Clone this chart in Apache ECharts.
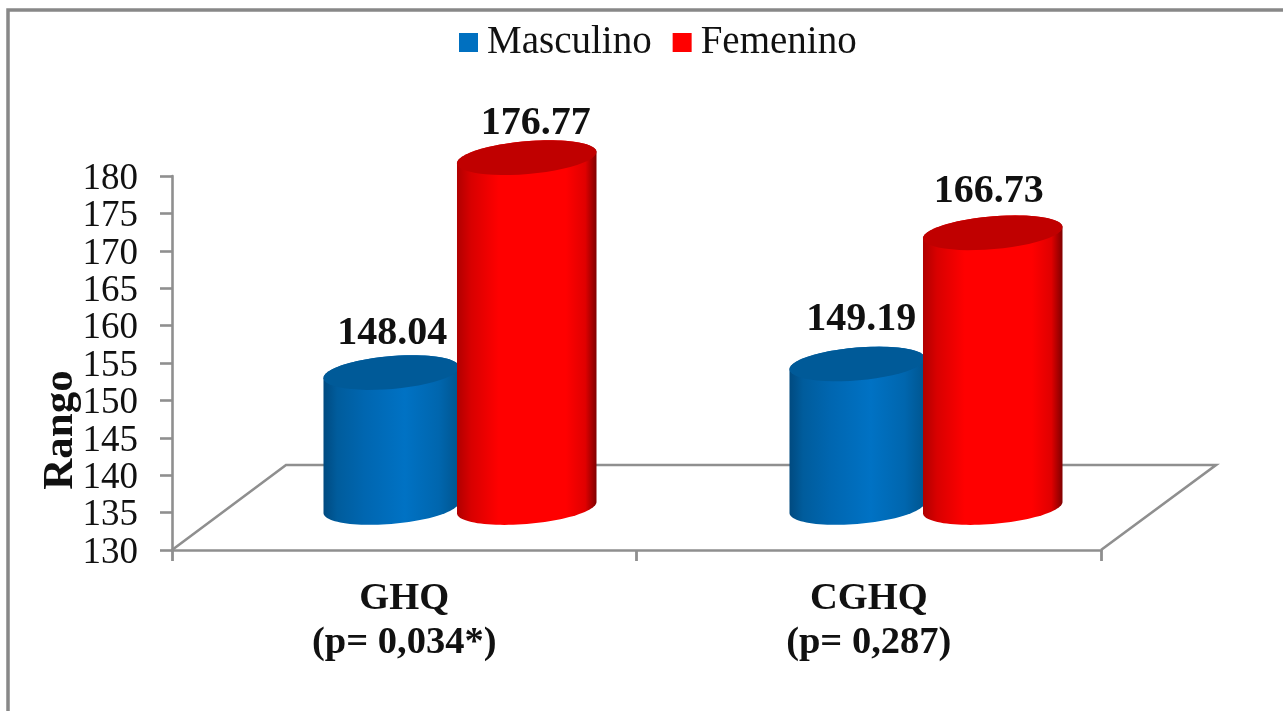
<!DOCTYPE html>
<html>
<head>
<meta charset="utf-8">
<style>html,body{margin:0;padding:0;background:#fff}#c{width:1283px;height:711px}</style>
<script src="https://cdn.jsdelivr.net/npm/echarts@6/dist/echarts.min.js"></script>
</head>
<body>
<div id="c"></div>
<script>
const categories = ['GHQ\n(p= 0,034*)', 'CGHQ\n(p= 0,287)'];
const masculino = [148.04, 149.19];
const femenino = [176.77, 166.73];
const valueTicks = { min: 130, max: 180, interval: 5 };

const FONT = '"Liberation Serif","Times New Roman",serif';
const GREY = '#8f8f8f';
const DEPTH_X = 114, DEPTH_Y = 85;
const TILT = -4.9 * Math.PI / 180;

function ellipsePoint(cx, cy, a, b, t) {
  const c = Math.cos(t), s = Math.sin(t);
  return [cx + a * c * Math.cos(TILT) - b * s * Math.sin(TILT),
          cy + a * c * Math.sin(TILT) + b * s * Math.cos(TILT)];
}
function arc(cx, cy, a, b, from, to) {
  const pts = [];
  for (let i = 0; i <= 48; i++) pts.push(ellipsePoint(cx, cy, a, b, from + (to - from) * i / 48));
  return pts;
}
function gradient(stops) {
  return { type: 'linear', x: 0, y: 0, x2: 1, y2: 0,
    colorStops: stops.map(s => ({ offset: s[0], color: s[1] })) };
}
const looks = {
  Masculino: {
    color: '#0070c0', top: '#005a98', shift: -13, a: 68,
    side: gradient([[0,'#004a80'],[0.1,'#005c9c'],[0.3,'#0066b0'],[0.6,'#0072c4'],[0.85,'#0066ae'],[1,'#00558f']]),
    labelShift: [[1, -39], [4, -44]]
  },
  Femenino: {
    color: '#ff0000', top: '#c00000', shift: 122.5, a: 70,
    side: gradient([[0,'#b00000'],[0.1,'#d80000'],[0.3,'#ff0000'],[0.78,'#ff0000'],[0.92,'#e00000'],[1,'#800000']]),
    labelShift: [[9, -34], [-4, -41]]
  }
};
function cylinder(look) {
  return function (params, api) {
    const i = api.value(0);
    const topP = api.coord([i, api.value(1)]);
    const baseP = api.coord([i, valueTicks.min]);
    const cx = topP[0] + look.shift + i * 1.5;
    const yTop = topP[1] - DEPTH_Y / 2;
    const yBase = baseP[1] - DEPTH_Y / 2;
    const b = 16.4, a = look.a;
    const t0 = Math.atan(-(b / a) * Math.tan(TILT));
    const body = arc(cx, yBase, a, b, t0, t0 + Math.PI).concat(arc(cx, yTop, a, b, t0 + Math.PI, t0 + 2 * Math.PI));
    const lid = arc(cx, yTop, a, b, 0, 2 * Math.PI);
    const ls = look.labelShift[i];
    return { type: 'group', children: [
      { type: 'polygon', shape: { points: body }, style: { fill: look.side } },
      { type: 'polygon', shape: { points: lid }, style: { fill: look.top } },
      { type: 'text', x: cx + ls[0], y: yTop + ls[1], style: {
          text: api.value(1).toFixed(2), fill: '#111', align: 'center', verticalAlign: 'middle',
          font: 'bold 40px ' + FONT } }
    ] };
  };
}
function floorRender(params, api) {
  const r = params.coordSys;
  const x0 = r.x, x1 = r.x + r.width, y0 = r.y + r.height;
  const pts = [[x0, y0], [x0 + DEPTH_X, y0 - DEPTH_Y], [x1 + DEPTH_X + 1, y0 - DEPTH_Y], [x1, y0]];
  return { type: 'polyline', shape: { points: pts }, style: { fill: null, stroke: GREY, lineWidth: 2.6 } };
}

const chart = echarts.init(document.getElementById('c'));
chart.setOption({
  animation: false,
  backgroundColor: '#fff',
  textStyle: { fontFamily: FONT },
  grid: { left: 172, right: 182, top: 176, bottom: 161, containLabel: false },
  legend: {
    left: 454, top: 18, itemWidth: 19, itemHeight: 19, itemGap: 21, icon: 'rect',
    textStyle: { fontFamily: FONT, fontSize: 39, color: '#111', padding: [0, 0, 0, 4] },
    data: ['Masculino', 'Femenino']
  },
  xAxis: {
    type: 'category', data: categories,
    axisLine: { lineStyle: { color: GREY, width: 2.6 } },
    axisTick: { show: true, length: 11, lineStyle: { color: GREY, width: 2.8 } },
    axisLabel: { color: '#111', fontFamily: FONT, fontWeight: 'bold', fontSize: 38.5, lineHeight: 44, margin: 27, interval: 0 }
  },
  yAxis: {
    type: 'value', min: valueTicks.min, max: valueTicks.max, interval: valueTicks.interval,
    splitLine: { show: false },
    axisLine: { show: true, lineStyle: { color: GREY, width: 2.6 } },
    axisTick: { show: true, length: 12, lineStyle: { color: GREY, width: 2.6 } },
    axisLabel: { color: '#111', fontFamily: FONT, fontSize: 37, margin: 34, verticalAlign: 'top', lineHeight: 6, showMinLabel: true, showMaxLabel: true, hideOverlap: false }
  },
  series: [
    { type: 'custom', name: 'floor', silent: true, z: 1, clip: false, renderItem: floorRender, data: [[0, valueTicks.min]], encode: { x: 0, y: 1 } },
    { type: 'custom', name: 'Masculino', z: 3, clip: false, itemStyle: { color: looks.Masculino.color },
      renderItem: cylinder(looks.Masculino), encode: { x: 0, y: 1 },
      data: masculino.map((v, i) => [i, v]) },
    { type: 'custom', name: 'Femenino', z: 4, clip: false, itemStyle: { color: looks.Femenino.color },
      renderItem: cylinder(looks.Femenino), encode: { x: 0, y: 1 },
      data: femenino.map((v, i) => [i, v]) }
  ],
  graphic: [
    { type: 'polyline', silent: true, z: 10, shape: { points: [[8, 711], [8, 10], [1283, 10]] },
      style: { fill: null, stroke: '#888888', lineWidth: 3.5 } },
    { type: 'text', silent: true, z: 10, x: 61, y: 430, rotation: Math.PI / 2,
      style: { text: 'Rango', fill: '#111', font: 'bold 43px ' + FONT, align: 'center', verticalAlign: 'middle' } }
  ]
});
</script>
</body>
</html>
